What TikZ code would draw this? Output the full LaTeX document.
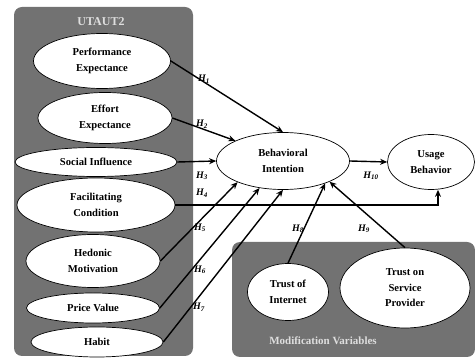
\documentclass[tikz,border=0pt]{standalone}
\usepackage{fontspec}
\setmainfont{Liberation Serif}
\usetikzlibrary{shapes.geometric,arrows.meta}
\definecolor{boxgray}{RGB}{114,114,114}
\definecolor{titlegray}{RGB}{222,222,222}
\tikzset{
  oval/.style={ellipse, draw=black, line width=0.7pt, fill=white, inner sep=0pt,
    align=center, font=\fontsize{10.6}{15.5}\selectfont\bfseries},
  grp/.style={fill=boxgray, draw=none, rounded corners=8pt},
  grptitle/.style={text=titlegray, font=\fontsize{12}{14}\selectfont\bfseries},
  conn/.style={line width=1.4pt, -{Stealth[length=7pt,width=6pt]}},
  hlab/.style={font=\fontsize{10}{12}\selectfont\bfseries\itshape, inner sep=0pt}
}
\begin{document}
\begin{tikzpicture}[x=1pt,y=-1pt]
\useasboundingbox (0,0) rectangle (475,358);
% groups
\fill[grp] (14,7) rectangle (193,356);
\node[grptitle] (t1) at (101,22) {UTAUT2};
\fill[grp] (232,242) rectangle (475,357);
\node[grptitle, font=\fontsize{11}{13}\selectfont\bfseries] (t2) at (323,341) {Modification Variables};
% nodes
\node[oval, minimum width=137pt, minimum height=55pt] (pe) at (102,61) {Performance\\Expectance};
\node[oval, minimum width=134pt, minimum height=51pt] (ee) at (105,118) {Effort\\Expectance};
\node[oval, minimum width=162pt, minimum height=29pt] (si) at (96,162) {Social Influence};
\node[oval, minimum width=158pt, minimum height=54pt] (fc) at (96,205) {Facilitating\\Condition};
\node[oval, minimum width=134pt, minimum height=53pt] (hm) at (93,261) {Hedonic\\Motivation};
\node[oval, minimum width=133pt, minimum height=30pt] (pv) at (93,308) {Price Value};
\node[oval, minimum width=132pt, minimum height=30pt] (hb) at (97,342) {Habit};
\node[oval, minimum width=133pt, minimum height=57pt] (bi) at (283,161) {Behavioral\\Intention};
\node[oval, minimum width=87pt, minimum height=55pt] (ub) at (431,162) {Usage\\Behavior};
\node[oval, minimum width=81pt, minimum height=57pt] (ti) at (288,292) {Trust of\\Internet};
\node[oval, minimum width=130pt, minimum height=80pt] (tsp) at (405,288) {Trust on\\Service\\Provider};
% connectors
\draw[conn] (pe.east) -- (bi.north);
\draw[conn] (ee.east) -- (bi.157);
\draw[conn] (si.east) -- (bi.west);
\draw[conn] (fc.east) -| ([xshift=7pt]ub.south);
\draw[conn] (hm.east) -- (bi.205);
\draw[conn] (pv.east) -- (bi.229);
\draw[conn] (hb.east) -- (bi.south);
\draw[conn] (ti.north) -- (bi.-28);
\draw[conn] (tsp.north) -- (bi.-24);
\draw[conn] (bi.east) -- (ub.west);
% labels
\node[hlab] (h1) at (204,79) {H\textsubscript{1}};
\node[hlab] (h2) at (202,124) {H\textsubscript{2}};
\node[hlab] (h3) at (202,176) {H\textsubscript{3}};
\node[hlab] (h4) at (202,193) {H\textsubscript{4}};
\node[hlab] (h5) at (200,228) {H\textsubscript{5}};
\node[hlab] (h6) at (200,270) {H\textsubscript{6}};
\node[hlab] (h7) at (199,307) {H\textsubscript{7}};
\node[hlab] (h8) at (298,229) {H\textsubscript{8}};
\node[hlab] (h9) at (364,229) {H\textsubscript{9}};
\node[hlab] (h10) at (371,176) {H\textsubscript{10}};
\end{tikzpicture}
\end{document}
